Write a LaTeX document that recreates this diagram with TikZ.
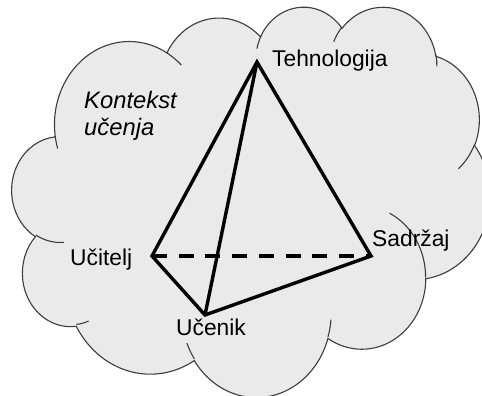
\documentclass[tikz,border=0pt]{standalone}
\usepackage{fontspec}
\setmainfont{Liberation Sans}
\definecolor{cloudgray}{RGB}{234,234,234}
\definecolor{cloudline}{RGB}{60,60,60}
\newcommand\cldarcstr{}
\newcommand\cldmain{}
\newcommand\cldinner{}
% OOXML-style arcTo: #1 wR, #2 hR, #3 start angle (deg), #4 sweep (deg)
\newcommand\cldcalc[4]{%
  \pgfmathsetmacro\cldTa{atan2((#1)*sin(#3),(#2)*cos(#3))}%
  \pgfmathsetmacro\cldTb{atan2((#1)*sin((#3)+(#4)),(#2)*cos((#3)+(#4)))}%
  \pgfmathsetmacro\cldS{0-(\cldTa)}%
  \pgfmathsetmacro\cldD{0-mod(\cldTb-(\cldTa)+720,360)}%
  \pgfmathsetmacro\cldRx{(#1)*0.0110648}%
  \pgfmathsetmacro\cldRy{(#2)*0.00902778}%
  \xdef\cldarcstr{arc[start angle=\cldS,delta angle=\cldD,x radius=\cldRx pt,y radius=\cldRy pt]}%
}
\newcommand\cldmainadd[4]{\cldcalc{#1}{#2}{#3}{#4}\xdef\cldmain{\cldmain\cldarcstr}}
\newcommand\cldinneradd[5]{\cldcalc{#2}{#3}{#4}{#5}\xdef\cldinner{\cldinner #1 \cldarcstr}}
\tikzset{
  cloudfill/.style={fill=cloudgray, draw=cloudline, line width=1.1pt},
  cloudinner/.style={draw=cloudline, line width=1.1pt},
  edge/.style={line width=3.4pt, line join=miter},
  dashededge/.style={line width=3.4pt, dash pattern=on 15pt off 11.7pt},
  lbl/.style={inner sep=0pt, anchor=base west, font=\fontsize{22.8}{27}\selectfont},
  lblit/.style={lbl, font=\fontsize{23.8}{27}\selectfont\itshape},
}
\begin{document}
\begin{tikzpicture}[x=1pt,y=-1pt]
\useasboundingbox (0,0) rectangle (482,396);
\clip (0,0) rectangle (482,396);
\fill[white] (0,0) rectangle (482,396);
% cloud outline arcs
\cldmainadd{6753}{9190}{-190.48748}{123.78053}
\cldmainadd{5333}{7267}{-144.10238}{89.94523}
\cldmainadd{4365}{5945}{-145.80792}{99.72302}
\cldmainadd{4857}{6595}{-130.98607}{117.24173}
\cldmainadd{5333}{7273}{-78.70888}{109.02692}
\cldmainadd{6775}{9220}{-46.26725}{130.26900}
\cldmainadd{5785}{7867}{0.62502}{114.03333}
\cldmainadd{6752}{9215}{22.45160}{115.17255}
\cldmainadd{7720}{10543}{66.24263}{75.71102}
\cldmainadd{4360}{5918}{-274.94208}{146.73557}
\cldmainadd{4345}{5945}{-246.82850}{152.51885}
% inner arcs
\cldinneradd{(469.3,2617.7)}{4345}{5945}{86.74200}{26.42950}
\cldinneradd{(692.8,3489.9)}{4360}{5918}{73.61047}{11.44747}
\cldinneradd{(1647.8,3909.0)}{6752}{9215}{137.62415}{14.08110}
\cldinneradd{(2882.7,3475.1)}{6752}{9215}{6.45327}{15.99835}
\cldinneradd{(3412.9,2295.4)}{5785}{7867}{-70.29235}{70.91737}
\cldinneradd{(4179.8,1535.4)}{5333}{7273}{30.31803}{27.75150}
\cldinneradd{(3832.4,542.6)}{4857}{6595}{-13.74433}{14.85890}
\cldinneradd{(2907.8,395.2)}{4857}{6595}{-149.18145}{18.19537}
\cldinneradd{(2214.1,472.0)}{4365}{5945}{-163.49427}{17.68635}
\cldinneradd{(1400.0,519.2)}{6753}{9190}{-66.70695}{12.31935}
\cldinneradd{(412.7,1578.9)}{6753}{9190}{157.65435}{11.85817}
\begin{scope}[shift={(12,6)}, x=0.110648pt, y=-0.0902778pt]
  \filldraw[cloudfill] (390,1437) \cldmain -- cycle;
  \draw[cloudinner] \cldinner;
\end{scope}
% tetrahedron
\coordinate (T) at (257,62);
\coordinate (Uc) at (152,256);
\coordinate (Un) at (205,315);
\coordinate (S) at (371,256);
\draw[dashededge] (Uc) -- (S);
\draw[edge] (T) -- (Uc) -- (Un) -- (S) -- cycle;
\draw[edge] (T) -- (Un);
% labels
\node[lbl] (tech) at (272,66.7) {Tehnologija};
\node[lblit] (ctx1) at (84,108) {Kontekst};
\node[lblit] (ctx2) at (84,135) {učenja};
\node[lbl] (uci) at (70,265) {Učitelj};
\node[lbl] (sad) at (372,246) {Sadržaj};
\node[lbl] (uce) at (176,335) {Učenik};
\end{tikzpicture}
\end{document}
